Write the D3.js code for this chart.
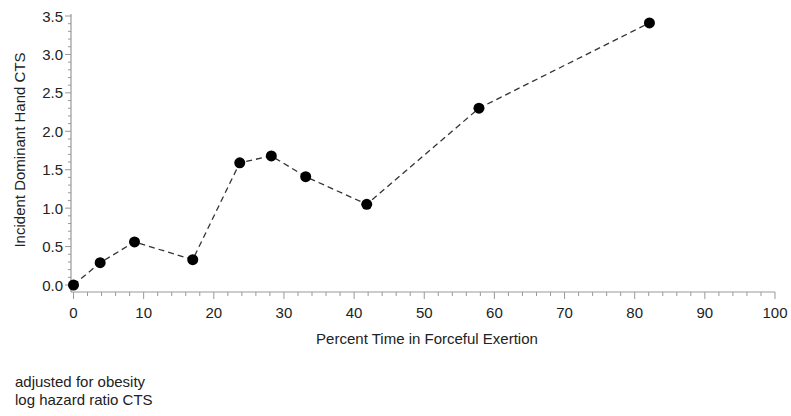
<!DOCTYPE html>
<html><head><meta charset="utf-8">
<script src="https://cdn.jsdelivr.net/npm/d3@7"></script>
<style>body{margin:0;background:#fff}svg{display:block}text{font-family:"Liberation Sans",Arial,sans-serif;fill:#222}</style>
</head><body><svg id="c" width="791" height="416"></svg>
<script>
const xValues = [0, 3.8, 8.7, 17, 23.7, 28.2, 33.1, 41.8, 57.8, 82.1];
const yValues = [0, 0.29, 0.56, 0.33, 1.59, 1.68, 1.41, 1.05, 2.30, 3.41];
const xTicks = [0,10,20,30,40,50,60,70,80,90,100];
const yTicks = [0,0.5,1,1.5,2,2.5,3,3.5];
const xTitle = "Percent Time in Forceful Exertion";
const yTitle = "Incident Dominant Hand CTS";
const notes = ["adjusted for obesity", "log hazard ratio CTS"];

const svg = d3.select("#c");
const x = d3.scaleLinear().domain([0,100]).range([73.5,775]);
const y = d3.scaleLinear().domain([0,3.5]).range([285,16]);
const axisColor = "#999";
const fs = 15;

// X axis
const gx = svg.append("g").attr("transform","translate(0,292)");
gx.append("line").attr("x1",71).attr("x2",775).attr("stroke",axisColor).attr("stroke-width",1.2);
gx.selectAll(".minor").data(d3.range(0,101,2).filter(v=>v%10!==0)).join("line")
  .attr("x1",d=>x(d)).attr("x2",d=>x(d)).attr("y1",0).attr("y2",4).attr("stroke",axisColor);
gx.selectAll(".major").data(xTicks).join("line")
  .attr("x1",d=>x(d)).attr("x2",d=>x(d)).attr("y1",0).attr("y2",7).attr("stroke",axisColor);
gx.selectAll("text").data(xTicks).join("text")
  .attr("x",d=>x(d)).attr("y",26).attr("text-anchor","middle").attr("font-size",fs).text(d=>d);

// Y axis
const gy = svg.append("g").attr("transform","translate(71,0)");
gy.append("line").attr("y1",y(3.5)-2).attr("y2",292).attr("stroke",axisColor).attr("stroke-width",1.2);
gy.selectAll(".minor").data(d3.range(0,35).map(i=>i/10).filter((v,i)=>i%5!==0)).join("line")
  .attr("y1",d=>y(d)).attr("y2",d=>y(d)).attr("x1",0).attr("x2",-3).attr("stroke",axisColor);
gy.selectAll(".major").data(yTicks).join("line")
  .attr("y1",d=>y(d)).attr("y2",d=>y(d)).attr("x1",0).attr("x2",-6).attr("stroke",axisColor);
gy.selectAll("text").data(yTicks).join("text")
  .attr("x",-8).attr("y",d=>y(d)+5.5).attr("text-anchor","end").attr("font-size",fs).text(d=>d3.format(".1f")(d));

// Titles
svg.append("text").attr("x",427).attr("y",344).attr("text-anchor","middle").attr("font-size",fs).text(xTitle);
svg.append("text").attr("transform","translate(25,150) rotate(-90)").attr("text-anchor","middle").attr("font-size",fs).text(yTitle);
notes.forEach((t,i)=>svg.append("text").attr("x",15).attr("y",387+i*18).attr("font-size",fs).text(t));

// Data
const data = xValues.map((v,i)=>({x:v,y:yValues[i]}));
svg.append("path").datum(data).attr("fill","none").attr("stroke","#333").attr("stroke-width",1.3)
  .attr("stroke-dasharray","6,4").attr("d",d3.line().x(d=>x(d.x)).y(d=>y(d.y)));
svg.selectAll("circle").data(data).join("circle")
  .attr("cx",d=>x(d.x)).attr("cy",d=>y(d.y)).attr("r",5.5).attr("fill","#000");
</script></body></html>
